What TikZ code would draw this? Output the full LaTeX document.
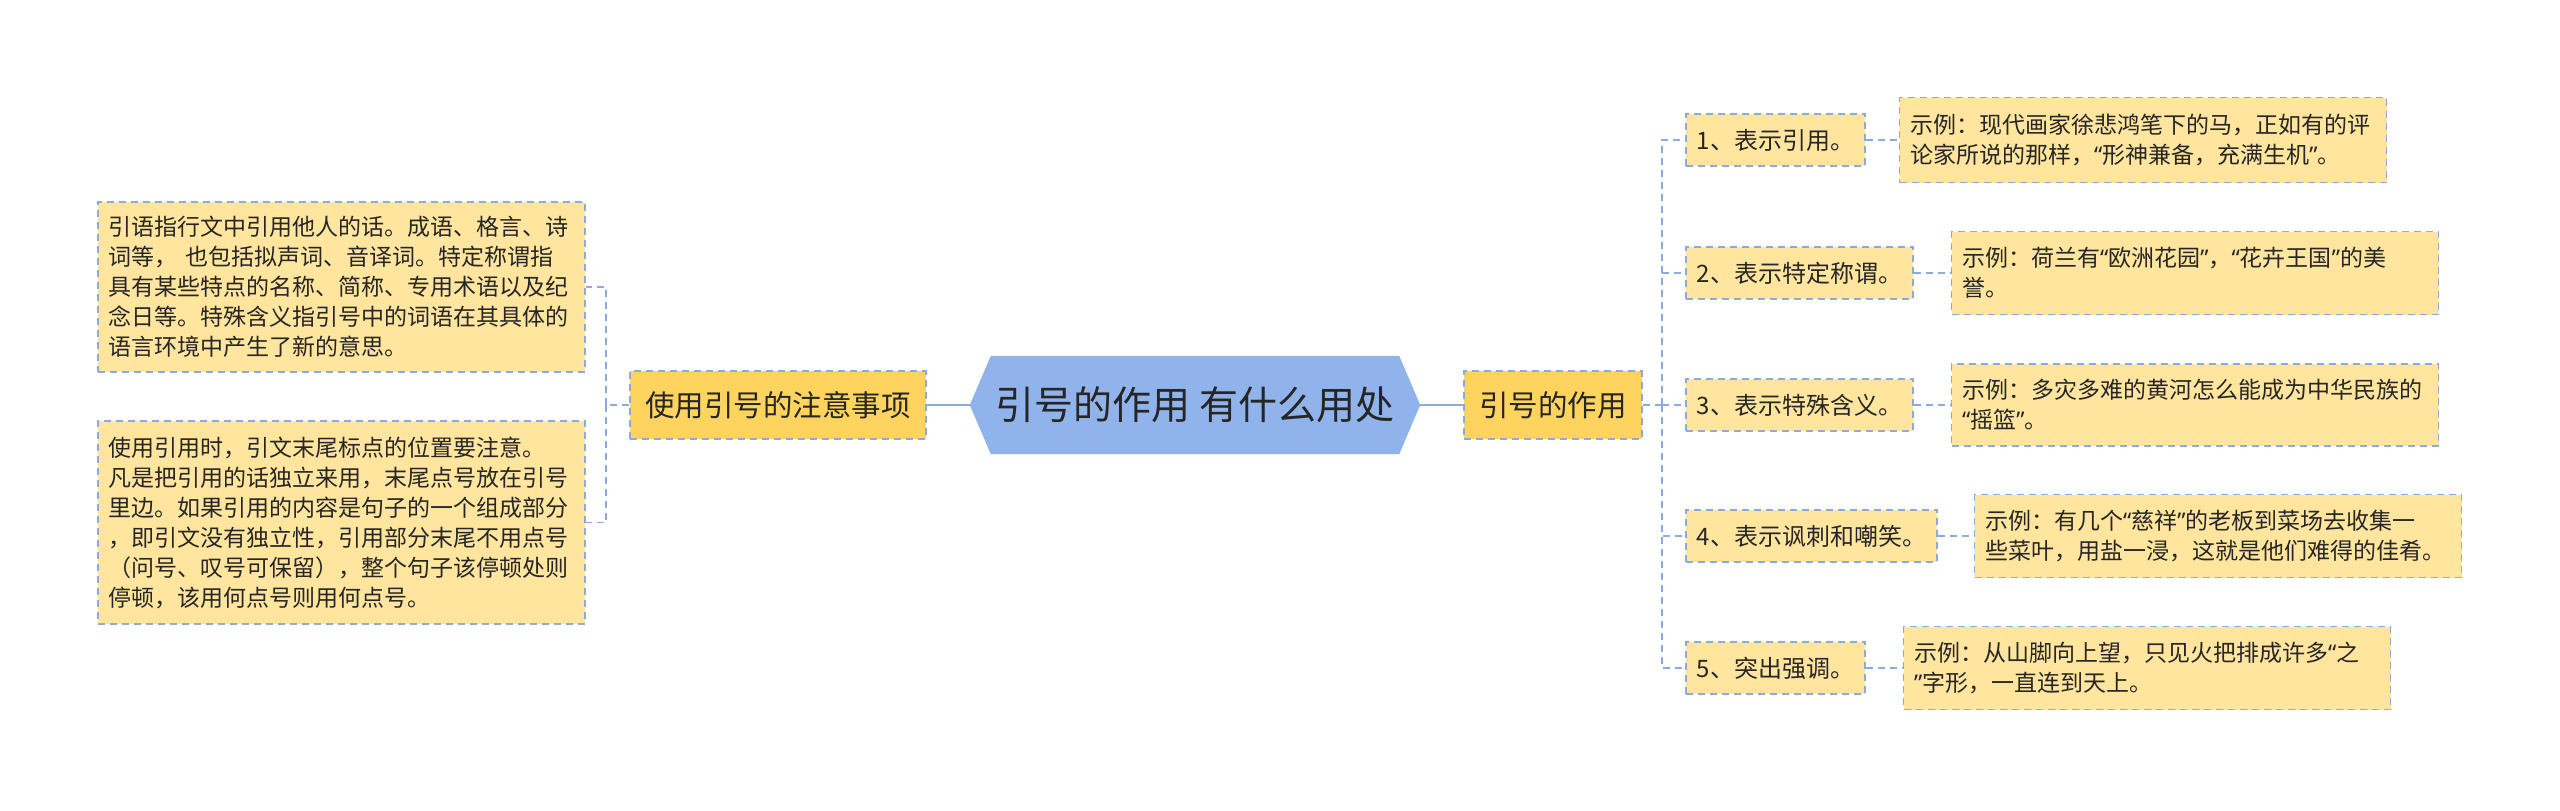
\documentclass[tikz,border=0pt]{standalone}
\usepackage{fontspec}
\setmainfont{Noto Sans CJK SC}
\newfontfamily\latinq{Noto Sans}
\newcommand\qo{{\latinq “}}
\newcommand\qc{{\latinq ”}}
\usetikzlibrary{backgrounds}
\definecolor{hexblue}{HTML}{8FB3EA}
\definecolor{lineblue}{HTML}{8DAADC}
\definecolor{mainyel}{HTML}{FFD45E}
\definecolor{lightyel}{HTML}{FFE59E}
\definecolor{txt}{HTML}{262626}
\tikzset{
  dashline/.style={draw=lineblue, line width=1.8pt, dash pattern=on 7pt off 5pt},
  boxbase/.style={dashline, text=txt, inner ysep=0pt},
  notebox/.style={boxbase, fill=lightyel, font=\fontsize{23}{30}\selectfont,
    align=left, text width=466pt, inner xsep=10.5pt, minimum height=#1},
  itembox/.style={boxbase, fill=lightyel, font=\fontsize{24}{30}\selectfont,
    inner xsep=11pt, minimum height=52pt, anchor=west},
  mainbox/.style={boxbase, fill=mainyel, font=\fontsize{29.5}{34}\selectfont,
    inner xsep=15pt, minimum height=68pt},
  solidlink/.style={draw=lineblue, line width=2.4pt},
}
\begin{document}
\begin{tikzpicture}[x=1pt, y=-1pt]
\useasboundingbox (0,0) rectangle (2560,811);

% central hexagon
\node[font=\fontsize{39}{44}\selectfont, text=txt, minimum width=450pt, minimum height=98pt, inner sep=0pt] (hex) at (1195,405) {引号的作用 有什么用处};
\begin{scope}[on background layer]
\fill[white] (0,0) rectangle (2560,811);
\fill[hexblue]
  (hex.west) -- ([xshift=21pt]hex.north west) -- ([xshift=-21pt]hex.north east)
  -- (hex.east) -- ([xshift=-21pt]hex.south east) -- ([xshift=21pt]hex.south west) -- cycle;
\end{scope}

% main branches
\node[mainbox] (L) at (778,405) {使用引号的注意事项};
\node[mainbox] (R) at (1553,405) {引号的作用};

% left notes
\node[notebox=170pt] (LT) at (341.5,287) {引语指行文中引用他人的话。成语、格言、诗\\词等， 也包括拟声词、音译词。特定称谓指\\具有某些特点的名称、简称、专用术语以及纪\\念日等。特殊含义指引号中的词语在其具体的\\语言环境中产生了新的意思。};
\node[notebox=203pt] (LB) at (341.5,522.5) {使用引用时，引文末尾标点的位置要注意。\\凡是把引用的话独立来用，末尾点号放在引号\\里边。如果引用的内容是句子的一个组成部分\\，即引文没有独立性，引用部分末尾不用点号\\（问号、叹号可保留），整个句子该停顿处则\\停顿，该用何点号则用何点号。};

% right items
\node[itembox] (I1) at (1685,140) {1、表示引用。};
\node[itembox] (I2) at (1685,273) {2、表示特定称谓。};
\node[itembox] (I3) at (1685,405) {3、表示特殊含义。};
\node[itembox] (I4) at (1685,536) {4、表示讽刺和嘲笑。};
\node[itembox] (I5) at (1685,668) {5、突出强调。};

% examples
\node[notebox=85pt] (E1) at (2143,140) {示例：现代画家徐悲鸿笔下的马，正如有的评\\论家所说的那样，\qo 形神兼备，充满生机\qc 。};
\node[notebox=83pt] (E2) at (2195,273) {示例：荷兰有\qo 欧洲花园\qc ，\qo 花卉王国\qc 的美\\誉。};
\node[notebox=82pt] (E3) at (2195,405) {示例：多灾多难的黄河怎么能成为中华民族的\\\qo 摇篮\qc 。};
\node[notebox=83pt] (E4) at (2218,536) {示例：有几个\qo 慈祥\qc 的老板到菜场去收集一\\些菜叶，用盐一浸，这就是他们难得的佳肴。};
\node[notebox=83pt] (E5) at (2147,668) {示例：从山脚向上望，只见火把排成许多\qo 之\\\qc 字形，一直连到天上。};

% connectors
\draw[solidlink] (hex.west) -- (L.east);
\draw[solidlink] (hex.east) -- (R.west);

\coordinate (lj) at (606,405);
\draw[dashline] (L.west) -- (lj);
\draw[dashline] (lj) |- (LT.east);
\draw[dashline] (lj) |- (LB.east);

\coordinate (rj) at (1662,405);
\draw[dashline] (R.east) -- (rj);
\draw[dashline] (rj) |- (I1.west);
\draw[dashline] (rj) |- (I2.west);
\draw[dashline] (rj) |- (I3.west);
\draw[dashline] (rj) |- (I4.west);
\draw[dashline] (rj) |- (I5.west);

\draw[dashline] (I1.east) -- (E1.west);
\draw[dashline] (I2.east) -- (E2.west);
\draw[dashline] (I3.east) -- (E3.west);
\draw[dashline] (I4.east) -- (E4.west);
\draw[dashline] (I5.east) -- (E5.west);
\end{tikzpicture}
\end{document}
